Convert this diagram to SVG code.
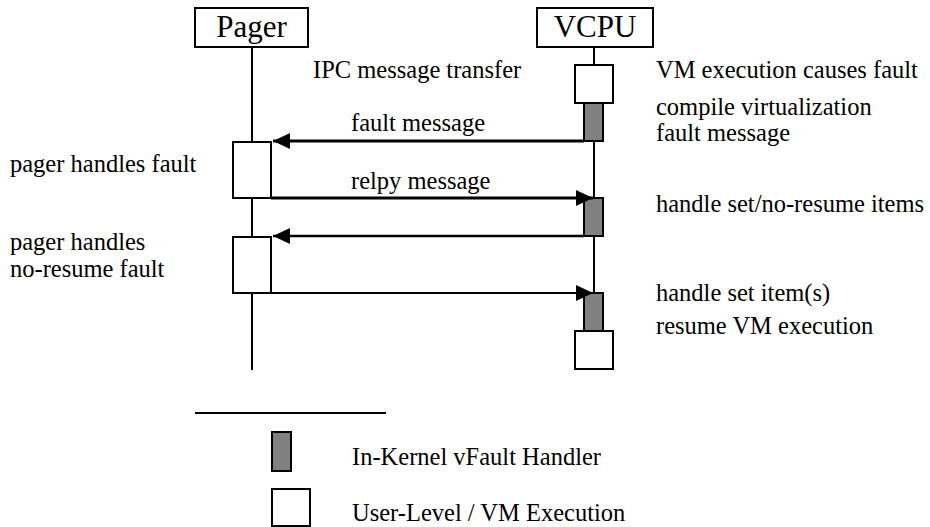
<svg xmlns="http://www.w3.org/2000/svg" width="930" height="527" viewBox="0 0 930 527">
<defs>
<style>
text{fill:#000}
.t{font-size:24.5px}
.h{font-size:31px;text-anchor:middle}
.box{fill:#fff;stroke:#000;stroke-width:2}
.k{fill:#808080;stroke:#000;stroke-width:2}
.life{stroke:#000;stroke-width:2;fill:none}
.msg{stroke:#000;fill:none}
</style>
<marker id="ah" markerUnits="userSpaceOnUse" markerWidth="18" markerHeight="16" refX="17" refY="8" orient="auto">
<path d="M0,0 L17,8 L0,16 z" fill="#000"/>
</marker>
</defs>
<g id="lifelines">
<line class="life" x1="252" y1="47" x2="252" y2="370"/>
<line class="life" x1="594" y1="47" x2="594" y2="369"/>
</g>
<g id="pager" font-family="'Liberation Serif', 'Times New Roman', serif">
<rect class="box" x="195" y="8" width="113" height="39"/>
<text class="h" x="251.5" y="37">Pager</text>
</g>
<g id="vcpu" font-family="'Liberation Serif', 'Times New Roman', serif">
<rect class="box" x="537" y="8" width="116" height="39"/>
<text class="h" x="595" y="37">VCPU</text>
</g>
<g id="vcpu-activations">
<rect class="box" x="575" y="65" width="38" height="38"/>
<rect class="k" x="584" y="103" width="19" height="38"/>
<rect class="k" x="584" y="198" width="19" height="38"/>
<rect class="k" x="584" y="293" width="19" height="38"/>
<rect class="box" x="575" y="331" width="38" height="38"/>
</g>
<g id="pager-activations">
<rect class="box" x="233" y="142" width="38" height="56"/>
<rect class="box" x="233" y="237" width="38" height="56"/>
</g>
<g id="connectors">
<line class="msg" x1="584" y1="141" x2="273" y2="141" stroke-width="3" marker-end="url(#ah)"/>
<line class="msg" x1="271" y1="198" x2="593" y2="198" stroke-width="3" marker-end="url(#ah)"/>
<line class="msg" x1="584" y1="236" x2="273" y2="236" stroke-width="2.5" marker-end="url(#ah)"/>
<line class="msg" x1="271" y1="293" x2="593" y2="293" stroke-width="2" marker-end="url(#ah)"/>
</g>
<g id="labels" font-family="'Liberation Serif', 'Times New Roman', serif">
<text class="t" x="313" y="78">IPC message transfer</text>
<text class="t" x="351" y="131">fault message</text>
<text class="t" x="351" y="189">relpy message</text>
<text class="t" x="10" y="172">pager handles fault</text>
<text class="t" x="10" y="250">pager handles</text>
<text class="t" x="10" y="277">no-resume fault</text>
<text class="t" x="656" y="78">VM execution causes fault</text>
<text class="t" x="656" y="115">compile virtualization</text>
<text class="t" x="656" y="141">fault message</text>
<text class="t" x="656" y="212">handle set/no-resume items</text>
<text class="t" x="656" y="301">handle set item(s)</text>
<text class="t" x="656" y="334">resume VM execution</text>
</g>
<g id="legend" font-family="'Liberation Serif', 'Times New Roman', serif">
<line x1="195" y1="413" x2="386" y2="413" stroke="#000" stroke-width="2"/>
<rect class="k" x="272" y="432" width="19" height="39"/>
<text class="t" x="352" y="465">In-Kernel vFault Handler</text>
<rect class="box" x="272" y="489" width="38" height="37"/>
<text class="t" x="352" y="521">User-Level / VM Execution</text>
</g>
</svg>
